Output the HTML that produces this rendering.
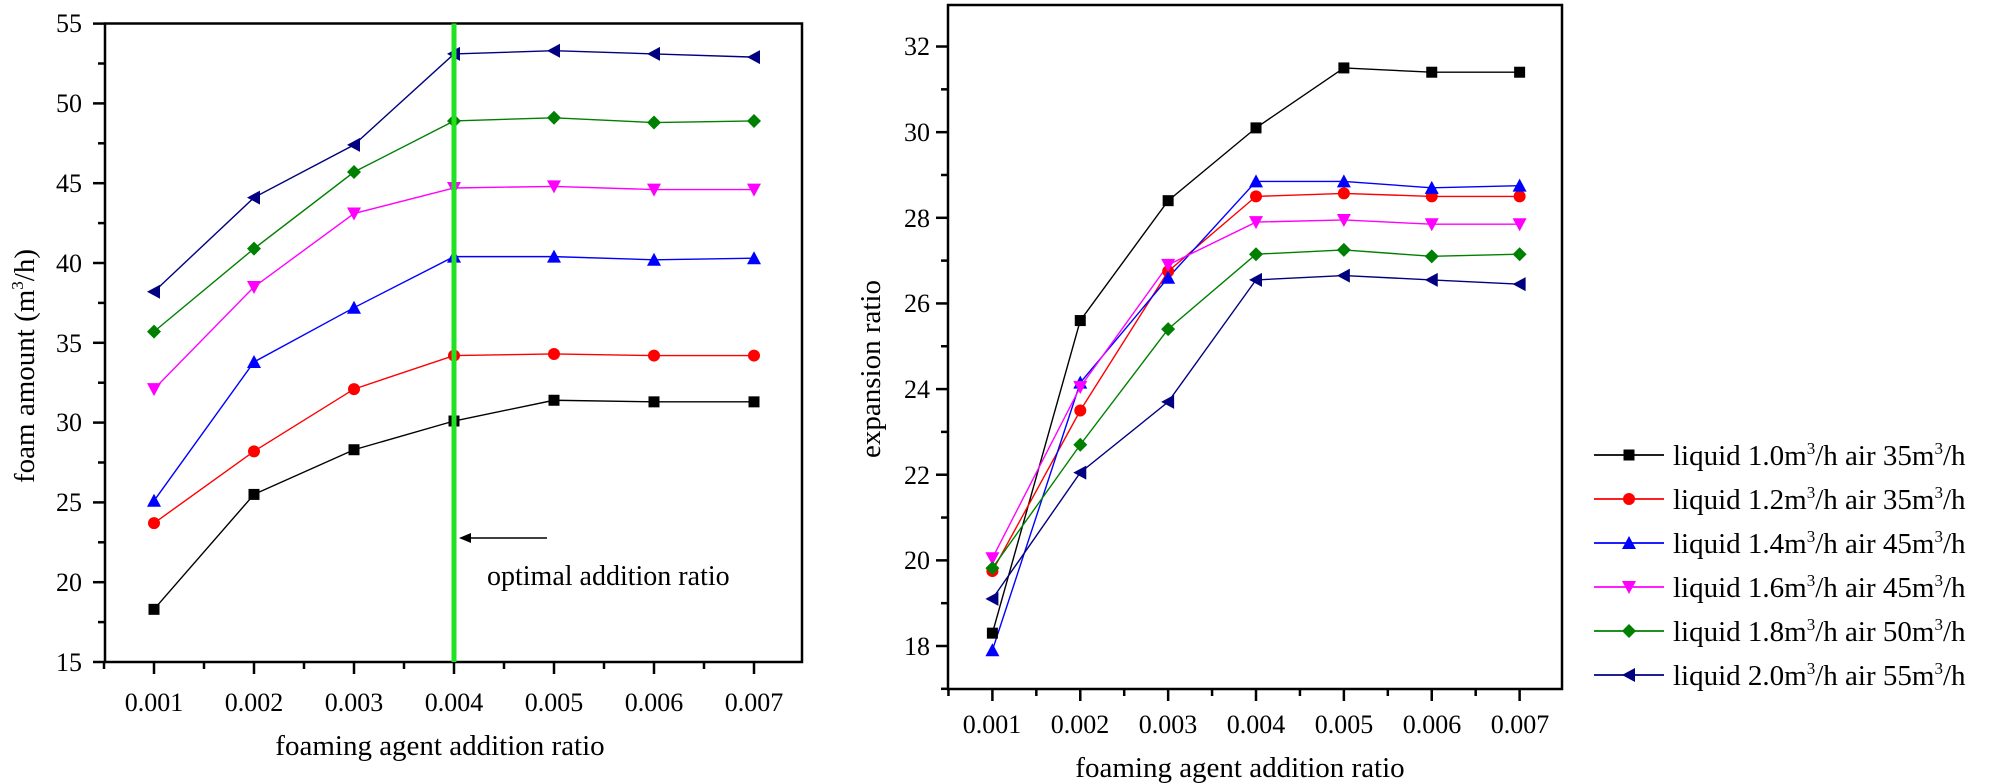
<!DOCTYPE html>
<html><head><meta charset="utf-8"><style>
html,body{margin:0;padding:0;background:#fff;}
svg{display:block;font-family:"Liberation Serif",serif;}
</style></head><body>
<svg id="s" width="2000" height="784" xmlns="http://www.w3.org/2000/svg">
<g id="g"></g>
<g font-size="26" fill="#000">
<g text-anchor="end">
<text x="82" y="671">15</text><text x="82" y="591">20</text><text x="82" y="511">25</text>
<text x="82" y="431">30</text><text x="82" y="352">35</text><text x="82" y="272">40</text>
<text x="82" y="192">45</text><text x="82" y="112">50</text><text x="82" y="32">55</text>
</g>
<g text-anchor="middle">
<text x="154" y="711">0.001</text><text x="254" y="711">0.002</text><text x="354" y="711">0.003</text>
<text x="454" y="711">0.004</text><text x="554" y="711">0.005</text><text x="654" y="711">0.006</text>
<text x="754" y="711">0.007</text>
<text x="440" y="755" font-size="29">foaming agent addition ratio</text>
<text x="0" y="0" font-size="29" transform="translate(34,366) rotate(-90)">foam amount (m<tspan font-size="17" dy="-11">3</tspan><tspan dy="11">/h)</tspan></text>
</g>
<text x="487" y="585" font-size="28">optimal addition ratio</text>
<g text-anchor="end">
<text x="930" y="655">18</text><text x="930" y="569">20</text><text x="930" y="484">22</text>
<text x="930" y="398">24</text><text x="930" y="312">26</text><text x="930" y="227">28</text>
<text x="930" y="141">30</text><text x="930" y="55">32</text>
</g>
<g text-anchor="middle">
<text x="992" y="733">0.001</text><text x="1080" y="733">0.002</text><text x="1168" y="733">0.003</text>
<text x="1256" y="733">0.004</text><text x="1344" y="733">0.005</text><text x="1432" y="733">0.006</text>
<text x="1520" y="733">0.007</text>
<text x="1240" y="777" font-size="29">foaming agent addition ratio</text>
<text x="0" y="0" font-size="29" transform="translate(880,369) rotate(-90)">expansion ratio</text>
</g>
<g font-size="29">
<text x="1673" y="465">liquid 1.0m<tspan font-size="17" dy="-11">3</tspan><tspan dy="11">/h air 35m</tspan><tspan font-size="17" dy="-11">3</tspan><tspan dy="11">/h</tspan></text>
<text x="1673" y="509">liquid 1.2m<tspan font-size="17" dy="-11">3</tspan><tspan dy="11">/h air 35m</tspan><tspan font-size="17" dy="-11">3</tspan><tspan dy="11">/h</tspan></text>
<text x="1673" y="553">liquid 1.4m<tspan font-size="17" dy="-11">3</tspan><tspan dy="11">/h air 45m</tspan><tspan font-size="17" dy="-11">3</tspan><tspan dy="11">/h</tspan></text>
<text x="1673" y="597">liquid 1.6m<tspan font-size="17" dy="-11">3</tspan><tspan dy="11">/h air 45m</tspan><tspan font-size="17" dy="-11">3</tspan><tspan dy="11">/h</tspan></text>
<text x="1673" y="641">liquid 1.8m<tspan font-size="17" dy="-11">3</tspan><tspan dy="11">/h air 50m</tspan><tspan font-size="17" dy="-11">3</tspan><tspan dy="11">/h</tspan></text>
<text x="1673" y="685">liquid 2.0m<tspan font-size="17" dy="-11">3</tspan><tspan dy="11">/h air 55m</tspan><tspan font-size="17" dy="-11">3</tspan><tspan dy="11">/h</tspan></text>
</g>
</g>
</svg>
<script>
var g=document.getElementById('g'),NS="http://www.w3.org/2000/svg";
function el(t,a){var e=document.createElementNS(NS,t);for(var k in a)e.setAttribute(k,a[k]);g.appendChild(e);return e;}
function ln(x1,y1,x2,y2,c,w){el('line',{x1:x1,y1:y1,x2:x2,y2:y2,stroke:c||'#000','stroke-width':w||2.5});}
var cols=['#000','#f00','#00f','#f0f','#008000','#000080'];
function mk(type,x,y,c){var s=5.5,t=7;
 if(type==0)el('rect',{x:x-s,y:y-s,width:2*s,height:2*s,fill:c});
 else if(type==1)el('circle',{cx:x,cy:y,r:s+0.5,fill:c});
 else if(type==2)el('polygon',{points:(x)+','+(y-t)+' '+(x+t)+','+(y+6)+' '+(x-t)+','+(y+6),fill:c});
 else if(type==3)el('polygon',{points:(x)+','+(y+t)+' '+(x+t)+','+(y-6)+' '+(x-t)+','+(y-6),fill:c});
 else if(type==4)el('polygon',{points:x+','+(y-t)+' '+(x+t)+','+y+' '+x+','+(y+t)+' '+(x-t)+','+y,fill:c});
 else el('polygon',{points:(x-t)+','+y+' '+(x+6)+','+(y-t)+' '+(x+6)+','+(y+t),fill:c});
}
var L={x0:105,x1:802,y0:23.5,y1:662};
function lx(i){return 154+i*100;} function ly(v){return 662-(v-15)*15.96;}
var ld=[[18.3,25.5,28.3,30.1,31.4,31.3,31.3],[23.7,28.2,32.1,34.2,34.3,34.2,34.2],[25.1,33.8,37.2,40.4,40.4,40.2,40.3],[32.1,38.5,43.1,44.7,44.8,44.6,44.6],[35.7,40.9,45.7,48.9,49.1,48.8,48.9],[38.2,44.1,47.4,53.1,53.3,53.1,52.9]];
el('rect',{x:L.x0,y:L.y0,width:L.x1-L.x0,height:L.y1-L.y0,fill:'none',stroke:'#000','stroke-width':2.5});
for(var v=15;v<=55;v+=2.5){var y=ly(v);ln(L.x0-(v%5==0?12:7),y,L.x0,y);}
for(var i=-0.5;i<=6.5;i+=0.5){var x=lx(i);if(x<L.x0-1||x>L.x1+1)continue;ln(x,L.y1,x,L.y1+(i%1==0?12:7));}
ld.forEach(function(d,k){var p=d.map(function(v,i){return lx(i)+','+ly(v)}).join(' ');el('polyline',{points:p,fill:'none',stroke:cols[k],'stroke-width':1.4});});
ld.forEach(function(d,k){d.forEach(function(v,i){mk(k,lx(i),ly(v),cols[k]);});});
el('line',{x1:454,y1:23.5,x2:454,y2:662,stroke:'#22e022','stroke-width':5});
ln(467,538,547,538,'#000',1.5);
el('polygon',{points:'459,538 471,533 471,543',fill:'#000'});
var R={x0:948,x1:1562,y0:5,y1:689};
function rx(i){return 992.4+i*87.87;} function ry(v){return 646-(v-18)*42.82;}
var rd=[[18.3,25.6,28.4,30.1,31.5,31.4,31.4],[19.75,23.5,26.75,28.5,28.57,28.5,28.5],[17.9,24.15,26.6,28.85,28.85,28.7,28.75],[20.05,24.05,26.9,27.9,27.95,27.85,27.85],[19.82,22.7,25.4,27.15,27.25,27.1,27.15],[19.1,22.05,23.7,26.55,26.65,26.55,26.45]];
el('rect',{x:R.x0,y:R.y0,width:R.x1-R.x0,height:R.y1-R.y0,fill:'none',stroke:'#000','stroke-width':2.5});
for(var v=17;v<=33;v+=1){var y=ry(v);if(y<R.y0||y>R.y1)continue;ln(R.x0-(v%2==0?12:7),y,R.x0,y);}
for(var i=-0.5;i<=6.5;i+=0.5){var x=rx(i);if(x<R.x0-1||x>R.x1+1)continue;ln(x,R.y1,x,R.y1+(i%1==0?12:7));}
rd.forEach(function(d,k){var p=d.map(function(v,i){return rx(i)+','+ry(v)}).join(' ');el('polyline',{points:p,fill:'none',stroke:cols[k],'stroke-width':1.4});});
rd.forEach(function(d,k){d.forEach(function(v,i){mk(k,rx(i),ry(v),cols[k]);});});
for(var k=0;k<6;k++){var y=455+k*44;ln(1594,y,1664,y,cols[k],1.8);mk(k,1629,y,cols[k]);}
</script>
</body></html>
